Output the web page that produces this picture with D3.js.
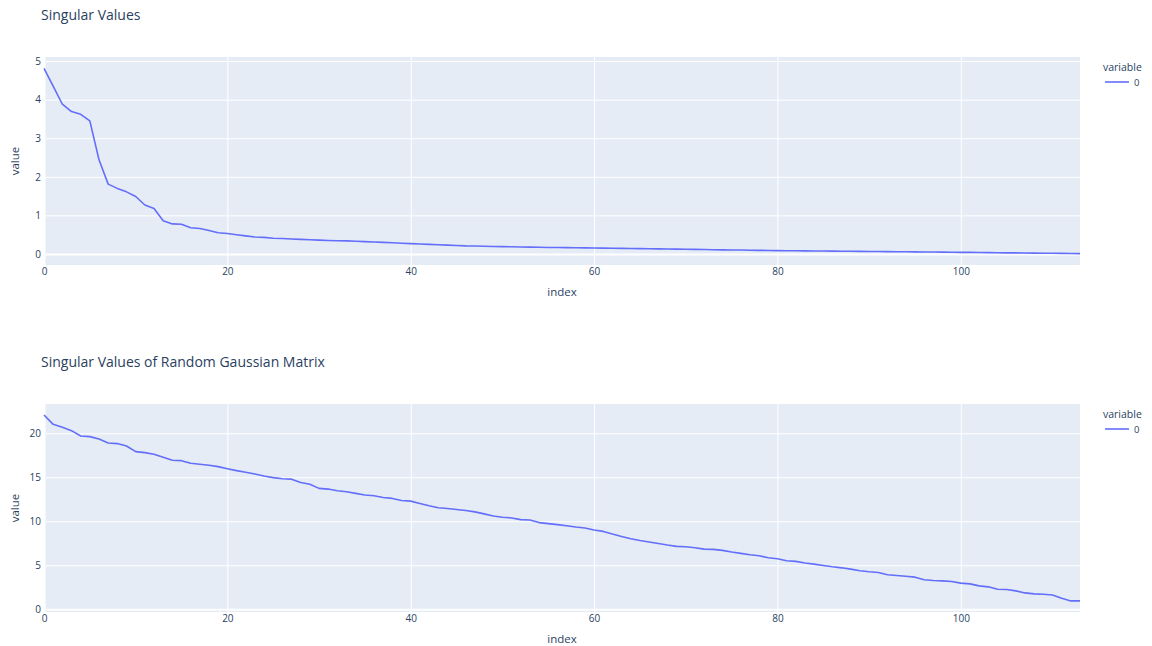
<!DOCTYPE html>
<html>
<head>
<meta charset="utf-8">
<script src="https://cdn.jsdelivr.net/npm/d3@7"></script>
<style>
  html, body { margin: 0; padding: 0; background: #fff; }
  svg { display: block; font-family: "Open Sans", "DejaVu Sans", sans-serif; }
</style>
</head>
<body>
<svg id="chart" width="1152" height="646"></svg>
<script>
// Singular values of the data matrix, sorted descending (index 0..113)
const singularValues = [
  4.81, 4.35, 3.88, 3.69, 3.62, 3.45, 2.44, 1.81, 1.70, 1.61,
  1.49, 1.27, 1.18, 0.86, 0.78, 0.77, 0.68, 0.66, 0.61, 0.55,
  0.53, 0.50, 0.47, 0.44, 0.43, 0.41, 0.40, 0.39, 0.38, 0.37,
  0.36, 0.35, 0.345, 0.34, 0.33, 0.32, 0.31, 0.30, 0.29, 0.28,
  0.27, 0.26, 0.25, 0.24, 0.23, 0.22, 0.21, 0.207, 0.20, 0.195,
  0.19, 0.186, 0.182, 0.178, 0.174, 0.17, 0.167, 0.164, 0.161, 0.158,
  0.155, 0.152, 0.149, 0.146, 0.143, 0.14, 0.136, 0.133, 0.129, 0.126,
  0.122, 0.119, 0.115, 0.112, 0.108, 0.105, 0.102, 0.098, 0.095, 0.091,
  0.088, 0.086, 0.084, 0.081, 0.079, 0.077, 0.075, 0.072, 0.070, 0.068,
  0.066, 0.063, 0.061, 0.059, 0.057, 0.054, 0.052, 0.050, 0.048, 0.045,
  0.043, 0.041, 0.038, 0.035, 0.033, 0.030, 0.028, 0.025, 0.023, 0.020,
  0.018, 0.015, 0.013, 0.010
];

// Singular values of a random Gaussian matrix of the same shape
const gaussianValues = [
  22.08, 21.02, 20.68, 20.30, 19.70, 19.62, 19.36, 18.90, 18.83, 18.56,
  17.92, 17.80, 17.61, 17.27, 16.93, 16.89, 16.59, 16.48, 16.36, 16.21,
  15.98, 15.76, 15.57, 15.38, 15.15, 14.96, 14.83, 14.79, 14.41, 14.20,
  13.74, 13.66, 13.47, 13.36, 13.17, 12.98, 12.90, 12.71, 12.60, 12.37,
  12.29, 12.02, 11.76, 11.53, 11.45, 11.34, 11.22, 11.07, 10.84, 10.61,
  10.46, 10.38, 10.19, 10.15, 9.85, 9.73, 9.62, 9.50, 9.35, 9.24,
  9.01, 8.85, 8.55, 8.28, 8.02, 7.82, 7.65, 7.48, 7.30, 7.15,
  7.11, 7.00, 6.84, 6.81, 6.69, 6.50, 6.35, 6.20, 6.08, 5.86,
  5.74, 5.51, 5.44, 5.25, 5.13, 4.98, 4.83, 4.71, 4.56, 4.37,
  4.26, 4.18, 3.92, 3.84, 3.76, 3.65, 3.35, 3.27, 3.23, 3.16,
  2.97, 2.89, 2.66, 2.55, 2.28, 2.24, 2.09, 1.86, 1.75, 1.71,
  1.63, 1.25, 0.95, 0.95
];

const indexTicks = [0, 20, 40, 60, 80, 100];
const topValueTicks = [0, 1, 2, 3, 4, 5];
const gaussValueTicks = [0, 5, 10, 15, 20];
const legendTitle = "variable";
const seriesName = "0";

const svg = d3.select("#chart");
const textColor = "#2a3f5f";
const bgColor = "#E5ECF6";
const lineColor = "#636EFA";
const intFormat = d3.format("d");

function drawPanel(cfg) {
  const { top, bottom, left, right, title, titleY, values, yDomain, yTicks, legendY } = cfg;
  const g = svg.append("g");

  const x = d3.scaleLinear().domain([0, values.length - 1]).range([left, right]);
  const y = d3.scaleLinear().domain(yDomain).range([bottom, top]);

  // plot background
  g.append("rect")
    .attr("x", left).attr("y", top)
    .attr("width", right - left).attr("height", bottom - top)
    .attr("fill", bgColor);

  // vertical grid
  g.append("g")
    .attr("transform", `translate(0,${bottom})`)
    .call(d3.axisBottom(x).tickValues(indexTicks).tickSize(-(bottom - top)).tickFormat(""))
    .call(a => a.select(".domain").remove())
    .call(a => a.selectAll("line").attr("stroke", "#fff").attr("stroke-width", d => d === 0 ? 2 : 1));

  // horizontal grid
  g.append("g")
    .attr("transform", `translate(${left},0)`)
    .call(d3.axisLeft(y).tickValues(yTicks).tickSize(-(right - left)).tickFormat(""))
    .call(a => a.select(".domain").remove())
    .call(a => a.selectAll("line").attr("stroke", "#fff").attr("stroke-width", d => d === 0 ? 2 : 1));

  // x tick labels
  g.append("g")
    .attr("transform", `translate(0,${bottom})`)
    .call(d3.axisBottom(x).tickValues(indexTicks).tickFormat(intFormat).tickSize(0).tickPadding(3))
    .call(a => a.select(".domain").remove())
    .call(a => a.selectAll("text")
      .attr("fill", textColor)
      .style("font-family", "'Open Sans', sans-serif")
      .style("font-size", "10px"));

  // y tick labels
  g.append("g")
    .attr("transform", `translate(${left},0)`)
    .call(d3.axisLeft(y).tickValues(yTicks).tickFormat(intFormat).tickSize(0).tickPadding(3))
    .call(a => a.select(".domain").remove())
    .call(a => a.selectAll("text")
      .attr("fill", textColor)
      .style("font-family", "'Open Sans', sans-serif")
      .style("font-size", "10px"));

  // axis titles
  g.append("text")
    .attr("x", (left + right) / 2).attr("y", bottom + 31)
    .attr("text-anchor", "middle")
    .attr("fill", textColor)
    .style("font-size", "11.5px")
    .text("index");

  g.append("text")
    .attr("transform", `translate(15,${(top + bottom) / 2}) rotate(-90)`)
    .attr("text-anchor", "middle")
    .attr("dy", "0.35em")
    .attr("fill", textColor)
    .style("font-size", "11.5px")
    .text("value");

  // series line
  const line = d3.line().x((d, i) => x(i)).y(d => y(d));
  g.append("path")
    .datum(values)
    .attr("d", line)
    .attr("fill", "none")
    .attr("stroke", lineColor)
    .attr("stroke-width", 1.6)
    .attr("stroke-linejoin", "round");

  // title
  g.append("text")
    .attr("x", 41).attr("y", titleY)
    .attr("fill", textColor)
    .style("font-size", "14px")
    .text(title);

  // legend
  const lg = g.append("g").attr("transform", `translate(1103,${legendY})`);
  lg.append("text")
    .attr("x", 0).attr("y", 0)
    .attr("fill", textColor)
    .style("font-size", "10.5px")
    .text(legendTitle);
  lg.append("line")
    .attr("x1", 2).attr("x2", 26)
    .attr("y1", 11).attr("y2", 11)
    .attr("stroke", lineColor)
    .attr("stroke-width", 1.6);
  lg.append("text")
    .attr("x", 31).attr("y", 14.5)
    .attr("fill", textColor)
    .style("font-size", "9.5px")
    .text(seriesName);
}

drawPanel({
  top: 57, bottom: 265, left: 44, right: 1080,
  title: "Singular Values", titleY: 19.5,
  values: singularValues,
  yDomain: [-0.285, 5.104], yTicks: topValueTicks,
  legendY: 71
});

drawPanel({
  top: 404, bottom: 612, left: 44, right: 1080,
  title: "Singular Values of Random Gaussian Matrix", titleY: 366.5,
  values: gaussianValues,
  yDomain: [-0.31, 23.33], yTicks: gaussValueTicks,
  legendY: 418
});
</script>
</body>
</html>
